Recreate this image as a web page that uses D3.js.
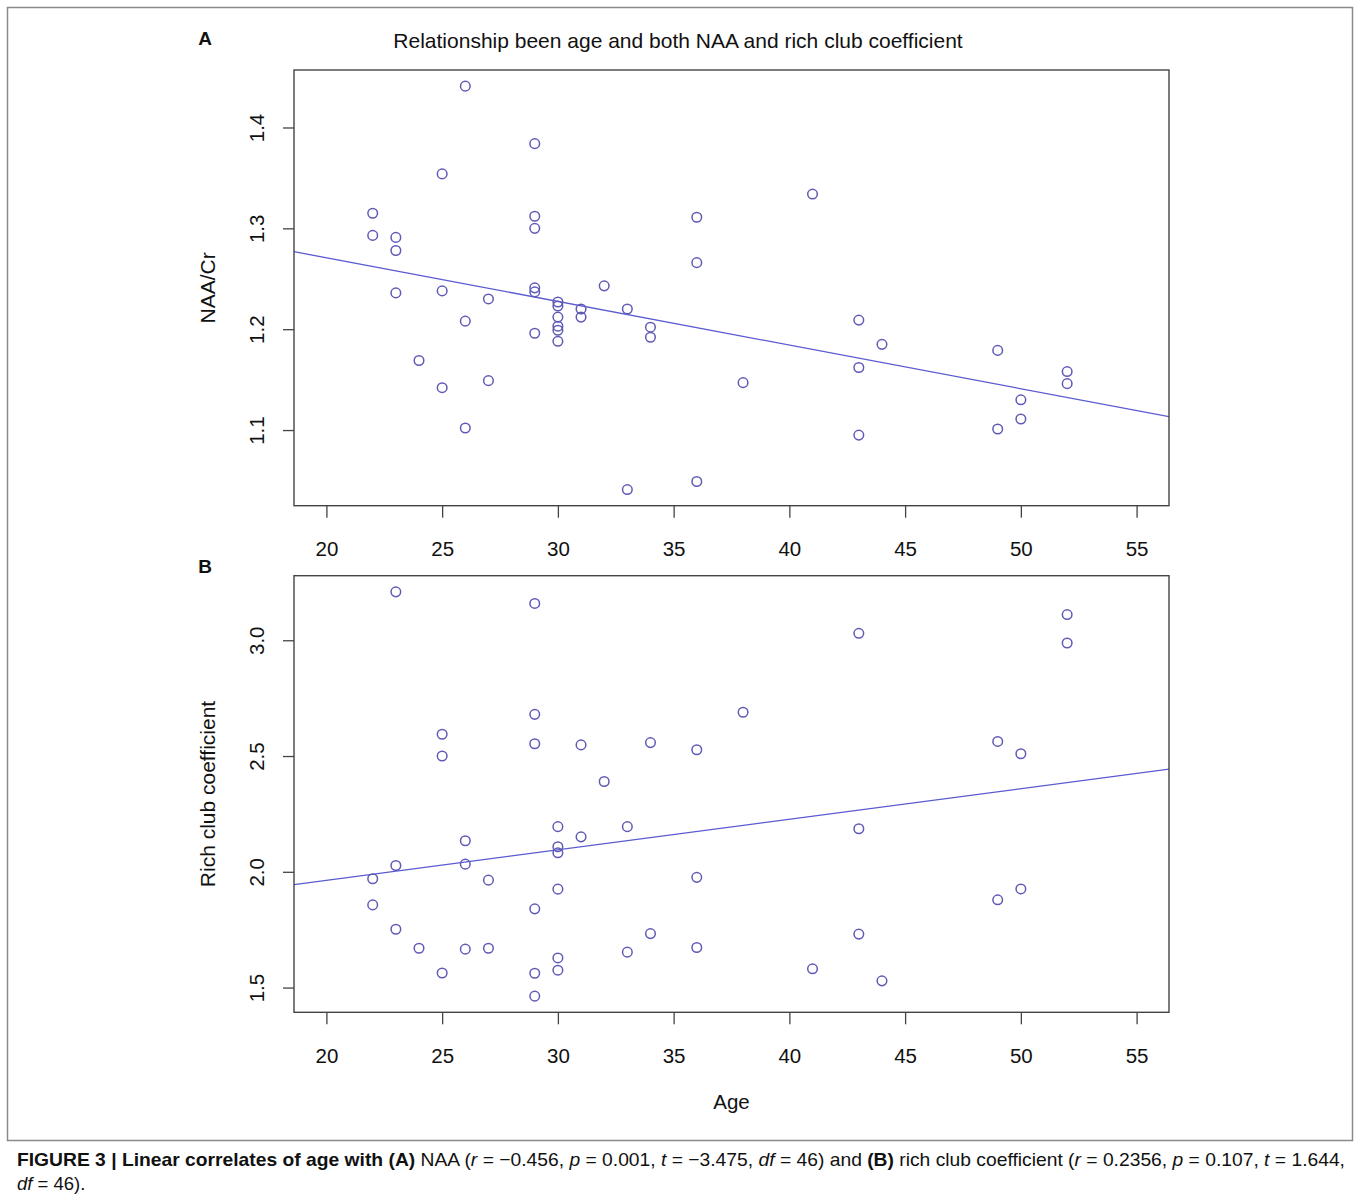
<!DOCTYPE html>
<html>
<head>
<meta charset="utf-8">
<script src="https://cdn.jsdelivr.net/npm/d3@7"></script>
<style>
  body { margin: 0; background: #fff; }
  svg text { font-family: "Liberation Sans", Arial, sans-serif; fill: #111; }
</style>
</head>
<body>
<div id="chart"></div>
<script>
// ages of the 48 subjects, sorted
const ages = [22, 22, 23, 23, 23, 24, 25, 25, 25, 26, 26, 26, 27, 27,
  29, 29, 29, 29, 29, 29, 30, 30, 30, 30, 30, 30, 31, 31, 32, 33, 33, 34, 34,
  36, 36, 36, 38, 41, 43, 43, 43, 44, 49, 49, 50, 50, 52, 52];
// NAA/Cr (panel A)
const naa = [1.315, 1.293, 1.291, 1.278, 1.236, 1.169, 1.354, 1.238, 1.142, 1.441, 1.208, 1.102, 1.230, 1.149,
  1.384, 1.312, 1.300, 1.241, 1.237, 1.196, 1.227, 1.223, 1.212, 1.203, 1.199, 1.188, 1.220, 1.212, 1.243, 1.220, 1.041, 1.202, 1.192,
  1.311, 1.266, 1.049, 1.147, 1.334, 1.209, 1.162, 1.095, 1.185, 1.179, 1.101, 1.130, 1.111, 1.158, 1.146];
// rich club coefficient (panel B)
const rich = [1.970, 1.857, 3.209, 2.027, 1.752, 1.670, 2.594, 2.500, 1.563, 2.134, 2.033, 1.666, 1.964, 1.670,
  3.159, 2.680, 2.553, 1.840, 1.562, 1.463, 2.195, 2.108, 2.082, 1.925, 1.628, 1.575, 2.548, 2.151, 2.390, 2.195, 1.653, 2.558, 1.733,
  2.527, 1.976, 1.673, 2.689, 1.581, 3.030, 2.186, 1.731, 1.529, 2.563, 1.879, 2.510, 1.926, 3.111, 2.988];

const xTicks = [20, 25, 30, 35, 40, 45, 50, 55];
const naaTicks = [1.1, 1.2, 1.3, 1.4];
const richTicks = [1.5, 2.0, 2.5, 3.0];

const W = 1360, H = 1203;
const svg = d3.select('#chart').append('svg').attr('width', W).attr('height', H);

// outer frame
svg.append('rect').attr('x', 7.5).attr('y', 7.5).attr('width', 1345).attr('height', 1133)
  .attr('fill', 'none').attr('stroke', '#8a8a8a').attr('stroke-width', 1.5);

// R-like padding of 4% on each side
const pad = ext => { const r = ext[1] - ext[0]; return [ext[0] - 0.04 * r, ext[1] + 0.04 * r]; };

const left = 294, right = 1169;
const x = d3.scaleLinear().domain(pad([20, 55])).range([left, right]);

// least-squares fit for abline(lm(y ~ age))
function fit(xs, ys) {
  const mx = d3.mean(xs), my = d3.mean(ys);
  const b = d3.sum(xs, (v, i) => (v - mx) * (ys[i] - my)) / d3.sum(xs, v => (v - mx) ** 2);
  return { a: my - b * mx, b: b };
}

function panel(id, top, bottom, ys, ticks, yLabel, letter) {
  const y = d3.scaleLinear().domain(pad(d3.extent(ys))).range([bottom, top]);
  const g = svg.append('g');

  g.append('clipPath').attr('id', 'clip' + id).append('rect')
    .attr('x', left).attr('y', top).attr('width', right - left).attr('height', bottom - top);

  // x axis
  const xAxis = g.append('g').attr('transform', `translate(0,${bottom})`)
    .call(d3.axisBottom(x).tickValues(xTicks).tickSize(12).tickSizeOuter(0));
  xAxis.select('.domain').remove();
  xAxis.selectAll('line').attr('stroke', '#444').attr('stroke-width', 1.3);
  xAxis.selectAll('text').attr('y', 50.5).attr('dy', null)
    .style('font-size', '20.5px').attr('fill', '#111');

  // y axis
  const yAxis = g.append('g').attr('transform', `translate(${left},0)`)
    .call(d3.axisLeft(y).tickValues(ticks).tickFormat(d3.format('.1f')).tickSize(11).tickSizeOuter(0));
  yAxis.select('.domain').remove();
  yAxis.selectAll('line').attr('stroke', '#444').attr('stroke-width', 1.3);
  yAxis.selectAll('text').attr('x', 0).attr('y', -37).attr('dy', '0.36em')
    .attr('transform', 'rotate(-90)').attr('text-anchor', 'middle')
    .style('font-size', '20.5px').attr('fill', '#111');

  // regression line
  const f = fit(ages, ys);
  const xd = x.domain();
  g.append('line').attr('clip-path', `url(#clip${id})`)
    .attr('x1', x(xd[0])).attr('y1', y(f.a + f.b * xd[0]))
    .attr('x2', x(xd[1])).attr('y2', y(f.a + f.b * xd[1]))
    .attr('stroke', '#5a5ad2').attr('stroke-width', 1.3);

  // points
  g.selectAll('circle').data(ys).enter().append('circle')
    .attr('cx', (d, i) => x(ages[i])).attr('cy', d => y(d)).attr('r', 4.8)
    .attr('fill', 'none').attr('stroke', '#5f5ab6').attr('stroke-width', 1.5);

  // box
  g.append('rect').attr('x', left).attr('y', top).attr('width', right - left).attr('height', bottom - top)
    .attr('fill', 'none').attr('stroke', '#444').attr('stroke-width', 1.4);

  // y label
  g.append('text').attr('transform', `translate(207,${(top + bottom) / 2}) rotate(-90)`)
    .attr('dy', '0.36em').attr('text-anchor', 'middle').style('font-size', '21px').text(yLabel);

  // panel letter
  g.append('text').attr('x', 205).attr('y', letter.y).attr('text-anchor', 'middle')
    .style('font-size', '19px').style('font-weight', 'bold').text(letter.t);
}

panel('A', 70, 505.7, naa, naaTicks, 'NAA/Cr', { t: 'A', y: 45 });
panel('B', 575.7, 1012.3, rich, richTicks, 'Rich club coefficient', { t: 'B', y: 573 });

// title
svg.append('text').attr('x', 678).attr('y', 48).attr('text-anchor', 'middle')
  .style('font-size', '21px').text('Relationship been age and both NAA and rich club coefficient');

// x label
svg.append('text').attr('x', 731.5).attr('y', 1109).attr('text-anchor', 'middle')
  .style('font-size', '20.5px').text('Age');

// caption
const cap = svg.append('g').style('font-size', '18.5px');
const l1 = cap.append('text').attr('x', 17).attr('y', 1166)
  .attr('textLength', 1328).attr('lengthAdjust', 'spacingAndGlyphs');
const seg = (t, parts) => parts.forEach(p => {
  const s = t.append('tspan').text(p[0]);
  if (p[1] === 'b') s.style('font-weight', 'bold');
  if (p[1] === 'i') s.style('font-style', 'italic');
});
seg(l1, [['FIGURE 3 | Linear correlates of age with (A)', 'b'], [' NAA ('], ['r', 'i'], [' = \u22120.456, '],
  ['p', 'i'], [' = 0.001, '], ['t', 'i'], [' = \u22123.475, '], ['df', 'i'], [' = 46) and '], ['(B)', 'b'],
  [' rich club coefficient ('], ['r', 'i'], [' = 0.2356, '], ['p', 'i'], [' = 0.107, '], ['t', 'i'], [' = 1.644,']]);
const l2 = cap.append('text').attr('x', 17).attr('y', 1190);
seg(l2, [['df', 'i'], [' = 46).']]);
</script>
</body>
</html>
